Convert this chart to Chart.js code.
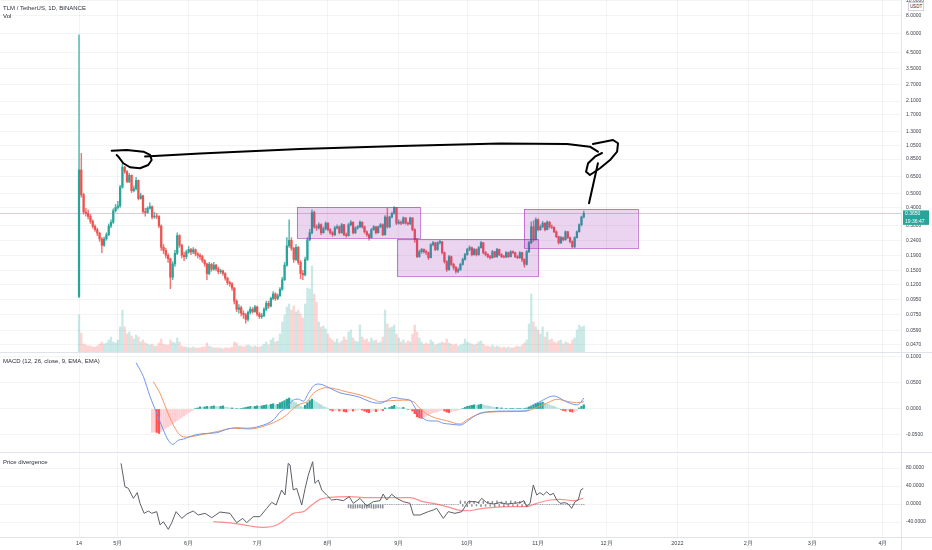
<!DOCTYPE html>
<html><head><meta charset="utf-8">
<script src="https://cdn.jsdelivr.net/npm/chart.js@4.4.0/dist/chart.umd.min.js"></script>
<style>
html,body{margin:0;padding:0;background:#fff;width:932px;height:550px;overflow:hidden;font-family:"Liberation Sans",Arial,sans-serif;}
#wrap{position:relative;width:932px;height:550px;}
canvas{position:absolute;left:0;}
.lbl{position:absolute;left:3px;font-size:6px;color:#2a2e39;white-space:nowrap;line-height:6px;}
.sep{position:absolute;background:#e0e3eb;}
#usdt{position:absolute;left:908px;top:2px;width:14px;height:7px;border:1px solid #d1d4dc;background:#fff;font-size:4.5px;line-height:7px;text-align:center;color:#2a2e39;}
</style></head>
<body><div id="wrap">
<canvas id="cPrice" width="932" height="352" style="top:0"></canvas>
<canvas id="cMacd" width="932" height="100" style="top:352px"></canvas>
<canvas id="cDiv" width="932" height="98" style="top:452px"></canvas>
<div class="sep" style="left:0;top:352px;width:932px;height:1px"></div>
<div class="sep" style="left:0;top:452px;width:932px;height:1px"></div>
<div class="sep" style="left:0;top:537px;width:932px;height:1px"></div>
<div class="sep" style="left:901px;top:0;width:1px;height:550px"></div>
<div class="lbl" style="top:5px">TLM / TetherUS, 1D, BINANCE</div>
<div class="lbl" style="top:12.5px">Vol</div>
<div class="lbl" style="top:358px">MACD (12, 26, close, 9, EMA, EMA)</div>
<div class="lbl" style="top:459px">Price divergence</div>
<div id="usdt">USDT</div>
</div>
<script>
// ---------- DATA (day index 0 = 14 Apr 2021) ----------
const tickDays   = [0, 17, 48, 78, 109, 140, 170, 201, 231, 262, 293, 321, 352];
const tickLabels = ['14','5月','6月','7月','8月','9月','10月','11月','12月','2022','2月','3月','4月'];
const priceTicks = [10, 8, 6, 4.5, 3.5, 2.7, 2.1, 1.7, 1.3, 1.05, 0.85, 0.65, 0.5, 0.4, 0.3, 0.24, 0.19, 0.15, 0.12, 0.095, 0.075, 0.059, 0.047];
const macdTicks  = [-0.05, 0, 0.05, 0.1];
const divTicks   = [-40, 0, 40, 80];

const firstOpen = 0.100;
const closes = [
 0.718,0.487,0.372,0.366,0.348,0.322,0.298,0.283,0.268,0.245,
 0.222,0.245,0.262,0.300,0.318,0.380,0.400,0.410,0.550,0.750,
 0.700,0.600,0.660,0.520,0.535,0.610,0.460,0.480,0.375,0.370,
 0.395,0.405,0.345,0.350,0.348,0.300,0.215,0.205,0.190,0.180,
 0.135,0.166,0.196,0.258,0.222,0.190,0.186,0.200,0.208,0.200,
 0.207,0.194,0.190,0.186,0.175,0.166,0.143,0.165,0.153,0.163,
 0.154,0.147,0.149,0.143,0.133,0.124,0.122,0.114,0.093,0.082,
 0.084,0.077,0.075,0.070,0.078,0.082,0.079,0.085,0.076,0.073,
 0.074,0.082,0.090,0.086,0.097,0.104,0.097,0.101,0.112,0.130,
 0.163,0.220,0.240,0.212,0.178,0.215,0.170,0.143,0.140,0.178,
 0.242,0.270,0.370,0.296,0.291,0.306,0.270,0.287,0.313,0.283,
 0.270,0.262,0.291,0.296,0.270,0.306,0.262,0.258,0.306,0.318,
 0.270,0.291,0.296,0.318,0.296,0.274,0.262,0.250,0.283,0.296,
 0.270,0.296,0.306,0.262,0.345,0.296,0.345,0.365,0.398,0.313,
 0.318,0.313,0.340,0.313,0.310,0.340,0.283,0.242,0.186,0.201,
 0.208,0.201,0.198,0.183,0.224,0.231,0.208,0.231,0.235,0.198,
 0.172,0.152,0.186,0.165,0.157,0.148,0.152,0.165,0.178,0.192,
 0.208,0.214,0.192,0.208,0.192,0.214,0.231,0.198,0.192,0.186,
 0.183,0.201,0.186,0.208,0.192,0.186,0.185,0.198,0.186,0.201,
 0.198,0.186,0.183,0.198,0.178,0.165,0.201,0.231,0.296,0.242,
 0.331,0.283,0.296,0.313,0.283,0.318,0.296,0.294,0.274,0.254,
 0.231,0.250,0.242,0.274,0.250,0.235,0.217,0.250,0.274,0.306,
 0.345,0.365];
const highs = [
 5.90,0.930,0.500,0.395,0.385,0.360,0.330,0.305,0.290,0.272,
 0.250,0.252,0.270,0.310,0.330,0.392,0.420,0.440,0.565,0.800,
 0.760,0.710,0.680,0.665,0.560,0.640,0.615,0.500,0.485,0.395,
 0.405,0.430,0.410,0.372,0.365,0.352,0.305,0.225,0.212,0.195,
 0.182,0.172,0.205,0.270,0.262,0.226,0.200,0.206,0.218,0.212,
 0.214,0.210,0.198,0.195,0.190,0.178,0.168,0.170,0.168,0.170,
 0.165,0.158,0.153,0.151,0.145,0.135,0.127,0.124,0.115,0.095,
 0.088,0.086,0.080,0.077,0.080,0.085,0.084,0.087,0.086,0.078,
 0.077,0.084,0.093,0.093,0.099,0.108,0.106,0.104,0.115,0.135,
 0.170,0.250,0.330,0.250,0.215,0.225,0.218,0.175,0.150,0.185,
 0.250,0.285,0.385,0.378,0.305,0.315,0.310,0.295,0.320,0.316,
 0.288,0.275,0.298,0.305,0.300,0.312,0.308,0.270,0.312,0.326,
 0.320,0.296,0.302,0.325,0.320,0.300,0.278,0.266,0.288,0.302,
 0.298,0.300,0.312,0.310,0.352,0.395,0.350,0.372,0.405,0.400,
 0.330,0.325,0.346,0.342,0.320,0.345,0.342,0.288,0.246,0.206,
 0.212,0.210,0.206,0.200,0.228,0.236,0.232,0.235,0.240,0.236,
 0.200,0.175,0.190,0.188,0.168,0.160,0.156,0.168,0.182,0.196,
 0.212,0.220,0.216,0.212,0.210,0.218,0.236,0.232,0.202,0.195,
 0.190,0.205,0.202,0.212,0.209,0.195,0.190,0.201,0.200,0.204,
 0.204,0.200,0.190,0.201,0.200,0.180,0.205,0.236,0.320,0.325,
 0.340,0.335,0.305,0.322,0.316,0.325,0.322,0.305,0.296,0.278,
 0.256,0.255,0.252,0.278,0.276,0.252,0.238,0.254,0.278,0.310,
 0.350,0.378];
const lows = [
 0.098,0.470,0.360,0.350,0.335,0.312,0.290,0.275,0.258,0.236,
 0.198,0.218,0.240,0.258,0.292,0.312,0.372,0.390,0.400,0.540,
 0.680,0.590,0.590,0.505,0.510,0.525,0.450,0.455,0.365,0.350,
 0.365,0.390,0.335,0.338,0.336,0.292,0.205,0.195,0.182,0.170,
 0.113,0.130,0.160,0.192,0.215,0.182,0.175,0.180,0.196,0.192,
 0.195,0.188,0.182,0.178,0.170,0.160,0.130,0.140,0.148,0.150,
 0.149,0.142,0.143,0.139,0.129,0.120,0.117,0.110,0.089,0.079,
 0.077,0.074,0.071,0.066,0.068,0.076,0.077,0.078,0.074,0.071,
 0.071,0.073,0.080,0.083,0.085,0.095,0.094,0.095,0.100,0.110,
 0.128,0.160,0.215,0.205,0.170,0.175,0.165,0.132,0.130,0.138,
 0.175,0.238,0.265,0.290,0.280,0.285,0.262,0.268,0.282,0.278,
 0.264,0.255,0.258,0.286,0.265,0.268,0.258,0.252,0.256,0.300,
 0.265,0.266,0.285,0.292,0.290,0.268,0.255,0.240,0.248,0.280,
 0.265,0.268,0.292,0.258,0.260,0.290,0.292,0.340,0.360,0.306,
 0.308,0.306,0.310,0.308,0.304,0.306,0.278,0.232,0.183,0.184,
 0.196,0.196,0.192,0.178,0.182,0.220,0.204,0.205,0.226,0.194,
 0.168,0.148,0.150,0.162,0.152,0.144,0.145,0.150,0.163,0.176,
 0.190,0.204,0.188,0.190,0.188,0.190,0.212,0.194,0.188,0.182,
 0.179,0.181,0.183,0.184,0.189,0.183,0.182,0.183,0.183,0.185,
 0.194,0.183,0.180,0.181,0.172,0.158,0.163,0.198,0.228,0.236,
 0.240,0.278,0.280,0.292,0.278,0.282,0.290,0.288,0.270,0.250,
 0.226,0.228,0.238,0.240,0.246,0.230,0.213,0.214,0.248,0.272,
 0.300,0.340];
const vols = [
 74,38,16,14,12,12,10,10,12,16,
 20,16,18,24,30,20,18,24,50,84,
 50,36,40,32,26,34,30,20,24,18,
 16,14,16,12,12,18,26,16,14,14,
 24,20,18,28,20,12,10,10,8,8,
 10,8,8,8,10,10,18,12,10,8,
 8,8,8,6,8,8,8,10,20,18,
 12,12,10,12,14,12,10,12,10,10,
 12,16,20,14,24,28,20,22,36,60,
 74,90,96,84,92,80,84,76,68,96,
 128,126,172,116,100,60,50,52,46,36,
 28,24,20,26,18,22,30,24,40,44,
 28,22,20,54,30,24,26,20,28,22,
 24,18,20,30,84,56,48,50,54,36,
 28,20,24,18,22,20,36,54,40,28,
 20,16,18,16,24,20,14,16,18,20,
 18,26,18,16,14,16,12,14,16,26,
 20,18,16,14,16,20,22,16,12,12,
 10,14,10,12,10,8,10,8,10,8,
 8,10,12,10,14,18,24,56,116,60,
 50,44,36,50,30,40,24,26,20,18,
 22,24,16,20,18,16,24,28,44,54,
 50,52];

// MACD (12, 26, close, 9)
const macdHistStart = 32;
const macdHist = [
 -0.045,-0.044,-0.045,-0.047,-0.043,-0.040,-0.037,-0.034,-0.031,-0.028,
 -0.025,-0.022,-0.019,-0.016,-0.013,-0.010,-0.007,-0.004,-0.002,0.001,
 0.002,0.004,0.003,0.004,0.005,0.004,0.005,0.006,0.005,0.004,
 0.005,0.006,0.004,0.003,0.002,0.002,0.001,0.001,0.0005,0.001,
 0.002,0.003,0.004,0.005,0.004,0.005,0.006,0.005,0.006,0.007,
 0.008,0.007,0.009,0.010,0.008,0.009,0.012,0.014,0.016,0.019,
 0.021,0.018,0.014,0.012,0.009,0.005,0.003,0.007,0.012,0.016,
 0.019,0.016,0.013,0.010,0.008,0.005,0.003,0.001,-0.002,-0.004,
 -0.003,-0.002,-0.004,-0.003,-0.005,-0.006,-0.004,-0.002,-0.004,-0.003,
 -0.002,-0.001,-0.002,-0.004,-0.006,-0.007,-0.005,-0.003,-0.005,-0.003,
 -0.002,-0.003,0.002,0.001,0.003,0.005,0.007,0.004,0.003,0.002,
 0.003,0.001,-0.001,-0.0005,-0.004,-0.009,-0.015,-0.017,-0.018,-0.016,
 -0.014,-0.012,-0.009,-0.007,-0.006,-0.005,-0.003,-0.002,-0.004,-0.006,
 -0.007,-0.005,-0.004,-0.003,-0.002,-0.001,0.001,0.003,0.005,0.006,
 0.007,0.008,0.007,0.008,0.009,0.008,0.007,0.006,0.005,0.004,
 0.003,0.003,0.002,0.002,0.001,0.001,0.0005,0.001,0.001,0.0005,
 0.001,0.001,0.0005,0.001,0.002,0.004,0.006,0.008,0.010,0.011,
 0.012,0.013,0.011,0.009,0.008,0.006,0.005,0.003,0.001,-0.001,
 -0.003,-0.004,-0.003,-0.005,-0.006,-0.005,-0.003,0.002,0.005,0.008];
const macdDays = [25,28.2,31.1,34,36.9,39.1,41,43.5,45.7,48.6,53,60.3,64.7,69,73.4,79.2,85.1,88,90.9,93.8,96,98.2,100.4,102.6,104.8,107,109.9,114.3,118.7,123,127.4,131.8,134.7,137.6,142,144.9,146.4,148.6,150.7,153.7,156.6,159.5,162.4,166.8,169.7,172.6,175.6,180,187.3,193.1,196.7,198.9,201.8,204.8,207.7,209.2,212,215,217.9,219.4,221];
const macdLine = [0.089,0.062,0.024,-0.008,-0.040,-0.060,-0.068,-0.060,-0.058,-0.053,-0.048,-0.0455,-0.039,-0.036,-0.037,-0.033,-0.021,-0.006,0.003,0.017,0.019,0.015,0.030,0.044,0.048,0.046,0.040,0.031,0.027,0.0225,0.014,0.011,0.016,0.022,0.019,0.017,0.008,-0.008,-0.018,-0.023,-0.023,-0.0275,-0.029,-0.031,-0.0245,-0.015,-0.008,-0.005,-0.004,-0.004,-0.002,0.008,0.014,0.021,0.025,0.0237,0.017,0.011,0.008,0.011,0.021];
const signalDays = [32.5,35.5,38.4,41.3,44.2,47.2,53,60.3,67.6,74.9,82.2,88,90.9,93.8,96.8,99.7,102.6,105.5,108.5,112.8,117.2,123,128.9,131.8,136.2,142,146.4,149.3,152.2,156.6,161,166.8,169.7,174.1,178.5,187.3,196,200.4,204.8,209.2,213.5,217.9,221];
const signalLine = [0.0525,0.030,-0.002,-0.031,-0.050,-0.054,-0.050,-0.0436,-0.037,-0.0385,-0.031,-0.020,-0.0115,0.001,0.0096,0.014,0.030,0.038,0.041,0.038,0.033,0.027,0.0187,0.014,0.016,0.017,0.014,0.001,-0.0096,-0.018,-0.0225,-0.029,-0.021,-0.0115,-0.0064,-0.005,-0.004,0.003,0.011,0.0187,0.015,0.012,0.014];

// Price divergence
const divDays = [18.4,20.1,21.6,23.8,25.5,26.7,28.5,30.4,31.8,34,35.5,36.9,39.1,40.6,42.5,45,47.2,50,52.2,55.2,58.1,61.7,66.1,69,71.7,73.4,76.3,79.2,82.2,84.4,86.3,88.7,90.2,91.6,92.4,93.8,95.3,97.5,99,100.4,102.3,103.3,104.8,106.3,108.4,110.6,112.8,115.7,118.3,120.1,123,126,128.9,131.8,133.2,134.7,136.9,139.1,142,144.9,146.4,149.3,152.9,155.1,156.6,159.5,161.7,164.6,167.6,170.4,173.4,174.8,176.3,178.5,181.4,184.3,187.3,190.2,193.1,194.8,196,197.5,198.9,200.4,201.8,203.3,204.8,206.2,207.7,209.2,210.6,212.8,214.2,215.7,217.2,218.6,219.7,220.8];
const divLine = [90.4,38.5,34.8,12.6,25.2,1.5,-20.7,-15.6,-20.7,-17,-46.7,-39.3,-56.3,-41.5,-17,-31.9,-22.2,-15.6,-24.4,-20.7,-30.4,-17.8,-20.7,-41.5,-31.9,-41.5,-28.1,-28.1,-9.6,3.7,-2.2,31.1,20,90.4,86.7,31.1,34.8,-2.2,34.8,64.4,94,46,53.3,31.1,20,8.9,10.4,7.4,16.3,1.5,12.6,-4.4,5.2,7.4,22.2,8.9,21.5,12.6,5.2,1.5,-24.4,-24.4,-17,-13.3,-9.6,-31.9,-17,-20.7,-17,5.2,5.2,3.0,12.6,3.0,0,3.0,0,1.5,3.0,7.4,-5.9,1.5,42.2,20,25.2,20,27.4,20,23.7,8.9,1.5,3.0,0,-9.6,5.2,8.9,31.1,34.8];
const divMaDays = [58.8,67.6,74.9,80.7,86.6,90.9,93.8,98.2,101.9,105.5,109.9,118.7,126,133.2,144.9,150.7,155.1,161,166.8,171.2,174.1,181.4,188.7,196,200.4,206.2,210.6,216.4,220.8];
const divMa = [-39.3,-42.9,-48.9,-51.8,-46.7,-31.9,-20.7,-17,-2.2,10.4,14.8,16.3,14,14,14,5.2,1.5,-5.9,-14,-15,-11.9,-7.4,-5.9,-5.9,1.5,8.9,10.4,7.4,12.6];
const divHistStart = 118;
const divHist = [
 -8,-9,-10,-9,-9,-8,-10,-9,-9,-8,-9,-10,-9,-8,-9,-9,
 -1.5,-1,-1.5,-1.5,-1,-1.5,-1.5,-1,-1.5,-1.5,-1,-1.5,-1.5,-1,-1.5,-1.5,-1,-1.5,-1.5,-1,-1.5,-1.5,-1,-1.5,-1.5,-1,-1.5,-1.5,-1,-1.5,-1.5,-1,-1.5,
 7,-5,6,-6,7,-5,6,-4,5,-6,7,-5,6,-5,6,-6,7,-5,5,-6,6,-5,7,-4,6,-5,6,-6,5,-5,
 -1.5,-1,-1.5,-1.5,-1,-1.5,-1.5,-1,-1.5,-1.5,-1,-1.5,-1.5,-1,-1.5,-1.5,-1,-1.5,-1.5,-1,-1.5,-1.5,-1,-1.5,-1.5];

// Drawings on the price pane (day, price)
const drawBoxes = [
 {from: 95.4, to: 149.3, top: 0.403, bottom: 0.249},
 {from: 139.2, to: 201.0, top: 0.245, bottom: 0.1377},
 {from: 194.8, to: 244.7, top: 0.391, bottom: 0.213}
];
const drawStrokes = [
 [[14.3,0.969],[20.9,0.980],[28.2,0.954],[31.1,0.907],[31.8,0.838],[30.3,0.776],[26.7,0.737],[22.3,0.749],[19.4,0.797],[17.2,0.883],[16.5,0.907]],
 [[28.9,0.885],[53.0,0.928],[96.8,0.995],[140.5,1.043],[184.3,1.084],[213.7,1.076],[223.7,1.032],[227.2,0.954]],
 [[225.0,1.076],[233.8,1.145],[236.0,1.088],[235.6,0.954],[232.5,0.838],[228.1,0.737],[223.7,0.664],[222.0,0.699],[222.9,0.797],[225.9,0.883],[229.0,0.935]],
 [[227.2,0.797],[223.3,0.427]]
];
const countdown = '19:36:47';

// ---------- RENDER ----------
const FONT = '"Liberation Sans", Arial, sans-serif';
const TEXT = '#3a3e49';
const GRID = 'rgba(42,46,57,0.055)';
const X_MIN = -34.6, X_MAX = 359.9, AXIS_W = 31;
const UP = '#26a69a', DOWN = '#ef5350';

const opens = closes.map((c, i) => i === 0 ? firstOpen : closes[i - 1]);
const isUp = closes.map((c, i) => c >= opens[i]);

function xAxis(showLabels) {
  return {
    type: 'linear', min: X_MIN, max: X_MAX, offset: false,
    afterBuildTicks: s => { s.ticks = tickDays.map(v => ({value: v})); },
    ticks: {display: showLabels, autoSkip: false, maxRotation: 0, padding: 3, color: TEXT,
            font: {family: FONT, size: 5.5}, callback: (v, i) => tickLabels[i]},
    grid: {color: GRID, drawTicks: false, offset: false},
    border: {display: false},
    afterFit: s => { s.height = showLabels ? 13 : 0; s.paddingLeft = 0; s.paddingRight = 0; }
  };
}
function yAxis(extra, tickVals) {
  return Object.assign({
    position: 'right',
    afterBuildTicks: s => { s.ticks = tickVals.map(v => ({value: v})); },
    ticks: {autoSkip: false, padding: 5, color: TEXT, font: {family: FONT, size: 5},
            callback: v => Number(v).toFixed(4)},
    grid: {color: GRID, drawTicks: false},
    border: {display: false},
    afterFit: s => { s.width = AXIS_W; s.paddingTop = 0; s.paddingBottom = 0; }
  }, extra);
}
const common = {
  responsive: false, animation: false, events: [],
  layout: {padding: 0},
  plugins: {legend: {display: false}, tooltip: {enabled: false}}
};

const annot = {
  id: 'annot',
  afterDatasetsDraw(chart) {
    const {ctx, chartArea: a, scales: {x, y}} = chart;
    ctx.save();
    ctx.beginPath(); ctx.rect(a.left, a.top, a.right - a.left, a.bottom - a.top); ctx.clip();
    const py = Math.round(y.getPixelForValue(closes[closes.length - 1])) + 0.5;
    ctx.strokeStyle = 'rgba(38,166,154,0.35)'; ctx.lineWidth = 1;
    ctx.beginPath(); ctx.moveTo(a.left, py); ctx.lineTo(a.right, py); ctx.stroke();
    for (const b of drawBoxes) {
      const x1 = x.getPixelForValue(b.from), x2 = x.getPixelForValue(b.to);
      const y1 = y.getPixelForValue(b.top), y2 = y.getPixelForValue(b.bottom);
      ctx.fillStyle = 'rgba(156,39,176,0.2)';
      ctx.fillRect(x1, y1, x2 - x1, y2 - y1);
      ctx.strokeStyle = 'rgba(156,39,176,0.55)'; ctx.lineWidth = 1;
      ctx.strokeRect(Math.round(x1) + 0.5, Math.round(y1) + 0.5, Math.round(x2 - x1), Math.round(y2 - y1));
    }
    ctx.strokeStyle = '#000'; ctx.lineWidth = 2; ctx.lineJoin = 'round'; ctx.lineCap = 'round';
    for (const s of drawStrokes) {
      ctx.beginPath();
      s.forEach(([d, p], i) => {
        const px = x.getPixelForValue(d), pp = y.getPixelForValue(p);
        if (i) ctx.lineTo(px, pp); else ctx.moveTo(px, pp);
      });
      ctx.stroke();
    }
    ctx.restore();
  },
  afterDraw(chart) {
    const {ctx, chartArea: a, scales: {y}} = chart;
    const last = closes[closes.length - 1];
    const py = y.getPixelForValue(last);
    ctx.save();
    ctx.fillStyle = UP;
    ctx.fillRect(a.right + 2, py - 3, 26, 14.5);
    ctx.fillStyle = '#fff';
    ctx.font = '5px ' + FONT;
    ctx.textBaseline = 'middle'; ctx.textAlign = 'left';
    ctx.fillText(last.toFixed(4), a.right + 4, py);
    ctx.fillText(countdown, a.right + 4, py + 8);
    ctx.restore();
  }
};

new Chart(document.getElementById('cPrice'), {
  type: 'bar',
  data: {datasets: [
    {label: 'Vol', yAxisID: 'yVol', order: 3, grouped: false, barThickness: 1.6,
     data: vols.map((v, i) => ({x: i, y: v})),
     backgroundColor: isUp.map(u => u ? 'rgba(38,166,154,0.25)' : 'rgba(239,83,80,0.25)')},
    {label: 'Wick', yAxisID: 'y', order: 2, grouped: false, barThickness: 0.8,
     data: highs.map((h, i) => ({x: i, y: [lows[i], h]})),
     backgroundColor: isUp.map(u => u ? 'rgba(38,166,154,0.8)' : 'rgba(239,83,80,0.8)')},
    {label: 'Body', yAxisID: 'y', order: 1, grouped: false, barThickness: 1.6,
     data: closes.map((c, i) => ({x: i, y: [opens[i], c]})),
     backgroundColor: isUp.map(u => u ? UP : DOWN)}
  ]},
  options: Object.assign({}, common, {
    scales: {
      x: xAxis(false),
      y: yAxis({type: 'logarithmic', min: 0.0421, max: 10.14}, priceTicks),
      yVol: {type: 'linear', display: false, min: 0, max: 704}
    }
  }),
  plugins: [annot]
});

const histColors = macdHist.map((h, i) => {
  const prev = i ? macdHist[i - 1] : h;
  if (h >= 0) return h >= prev ? '#26a69a' : '#b2dfdb';
  return h < prev ? '#ff5252' : '#ffcdd2';
});
new Chart(document.getElementById('cMacd'), {
  type: 'bar',
  data: {datasets: [
    {type: 'line', label: 'MACD', order: 1, data: macdDays.map((d, i) => ({x: d, y: macdLine[i]})),
     borderColor: '#6f96ee', borderWidth: 1, pointRadius: 0, cubicInterpolationMode: 'monotone'},
    {type: 'line', label: 'Signal', order: 2, data: signalDays.map((d, i) => ({x: d, y: signalLine[i]})),
     borderColor: '#f9955e', borderWidth: 1, pointRadius: 0, cubicInterpolationMode: 'monotone'},
    {label: 'Histogram', order: 3, grouped: false, barThickness: 1.6,
     data: macdHist.map((h, i) => ({x: macdHistStart + i, y: h})), backgroundColor: histColors}
  ]},
  options: Object.assign({}, common, {
    scales: {x: xAxis(false), y: yAxis({type: 'linear', min: -0.0827, max: 0.1096}, macdTicks)}
  })
});

new Chart(document.getElementById('cDiv'), {
  type: 'bar',
  data: {datasets: [
    {type: 'line', label: 'Divergence', order: 1, data: divDays.map((d, i) => ({x: d, y: divLine[i]})),
     borderColor: '#5d5f66', borderWidth: 1, pointRadius: 0, tension: 0},
    {type: 'line', label: 'Average', order: 2, data: divMaDays.map((d, i) => ({x: d, y: divMa[i]})),
     borderColor: 'rgba(255,82,82,0.65)', borderWidth: 1.2, pointRadius: 0, cubicInterpolationMode: 'monotone'},
    {label: 'Diff', order: 3, grouped: false, barThickness: 0.8,
     data: divHist.map((v, i) => ({x: divHistStart + i, y: v})), backgroundColor: '#8a8d96'}
  ]},
  options: Object.assign({}, common, {
    scales: {x: xAxis(true), y: yAxis({type: 'linear', min: -73.3, max: 115.6}, divTicks)}
  })
});
</script>
</body></html>
